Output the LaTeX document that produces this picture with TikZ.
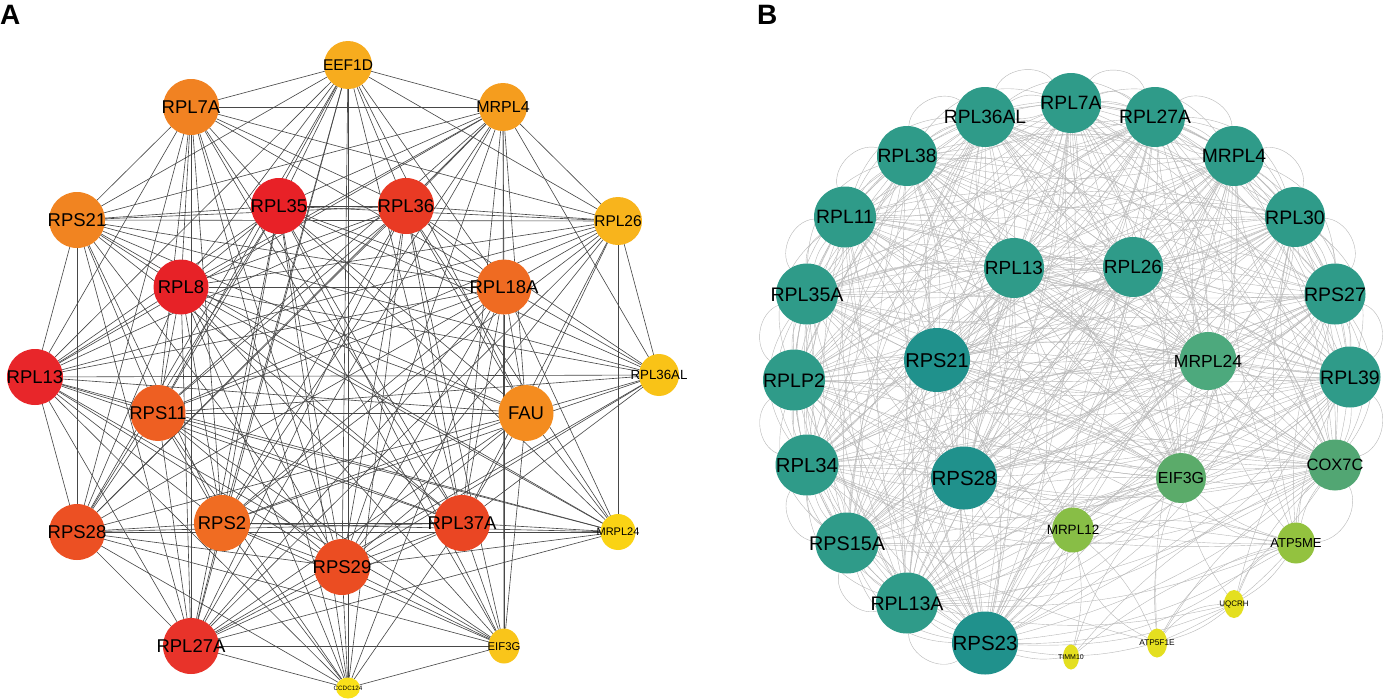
\documentclass[tikz,border=0pt]{standalone}
\usepackage{fontspec}
\setmainfont{Liberation Sans}
\usetikzlibrary{shapes.geometric}
\pgfdeclarelayer{bg}
\pgfdeclarelayer{edges}
\pgfsetlayers{bg,edges,main}

% panel A colours
\definecolor{cEEF1D}{HTML}{F7AC1E}
\definecolor{cRPL7A}{HTML}{F18222}
\definecolor{cMRPL4}{HTML}{F59D1E}
\definecolor{cRPS21}{HTML}{F18421}
\definecolor{cRPL35}{HTML}{E82127}
\definecolor{cRPL36}{HTML}{E93A24}
\definecolor{cRPL26}{HTML}{F8B41C}
\definecolor{cRPL8}{HTML}{E72227}
\definecolor{cRPL18A}{HTML}{EF6B22}
\definecolor{cRPL13}{HTML}{E8262A}
\definecolor{cRPL36AL}{HTML}{F9C317}
\definecolor{cRPS11}{HTML}{EE5F22}
\definecolor{cFAU}{HTML}{F48C1F}
\definecolor{cRPS28}{HTML}{EC5023}
\definecolor{cRPS2}{HTML}{F06C22}
\definecolor{cRPL37A}{HTML}{EA4623}
\definecolor{cMRPL24}{HTML}{FAD314}
\definecolor{cRPS29}{HTML}{EB4D22}
\definecolor{cRPL27A}{HTML}{E8332A}
\definecolor{cEIF3G}{HTML}{F9C51A}
\definecolor{cCCDC124}{HTML}{F9E11A}
% panel B colours
\definecolor{bTeal}{HTML}{2F9B89}
\definecolor{bDark}{HTML}{20918C}
\definecolor{bMrpl}{HTML}{4DA97D}
\definecolor{bCox}{HTML}{52A673}
\definecolor{bEif}{HTML}{5BAB6A}
\definecolor{bLime}{HTML}{88BE46}
\definecolor{bLime2}{HTML}{93C23F}
\definecolor{bYel}{HTML}{E4DF20}

\newcommand\lbl[1]{\makebox[0pt]{\raisebox{-0.36em}[0pt][0pt]{#1}}}
\tikzset{
  gene/.style={ellipse, inner sep=0pt, outer sep=0pt, draw=none},
  edgeA/.style={draw=black!72, line width=0.62pt},
  edgeB/.style={draw=black!28, line width=0.4pt},
  outarc/.style={bend left=#1},
  panel/.style={font=\fontsize{28}{28}\selectfont\bfseries, anchor=north west, inner sep=0pt},
}
% name, x, y, width, height, colour, font size, text
\newcommand\gnode[8]{%
  \node[gene, fill=#6, minimum width=#4pt, minimum height=#5pt,
        font=\fontsize{#7}{#7}\selectfont] (#1) at (#2,#3) {\lbl{#8}};}
\newcommand\noedge[2]{%
  \expandafter\def\csname miss-#1-#2\endcsname{}%
  \expandafter\def\csname miss-#2-#1\endcsname{}}

\noedge{aCCDC124}{aMRPL4}\noedge{aCCDC124}{aRPL26}\noedge{aCCDC124}{aRPL36AL}
\noedge{aCCDC124}{aMRPL24}\noedge{aCCDC124}{aFAU}\noedge{aCCDC124}{aRPS21}
\noedge{aMRPL24}{aEEF1D}\noedge{aMRPL24}{aRPL7A}\noedge{aMRPL24}{aEIF3G}
\noedge{aMRPL24}{aRPL36AL}\noedge{aMRPL24}{aMRPL4}
\noedge{aEIF3G}{aEEF1D}\noedge{aEIF3G}{aRPL26}\noedge{aEIF3G}{aRPL36AL}\noedge{aEIF3G}{aRPS21}
\noedge{aRPL36AL}{aEEF1D}\noedge{aRPL36AL}{aRPL7A}\noedge{aRPL36AL}{aRPS28}
\noedge{aRPL26}{aRPS28}\noedge{aFAU}{aRPL7A}

\def\Alist{aEEF1D,aRPL7A,aMRPL4,aRPS21,aRPL35,aRPL36,aRPL26,aRPL8,aRPL18A,aRPL13,aRPL36AL,aRPS11,aFAU,aRPS28,aRPS2,aRPL37A,aMRPL24,aRPS29,aRPL27A,aEIF3G,aCCDC124}
\def\Blist{bRPL7A,bRPL27A,bMRPL4,bRPL30,bRPS27,bRPL39,bCOX7C,bRPS23,bRPL13A,bRPS15A,bRPL34,bRPLP2,bRPL35A,bRPL11,bRPL38,bRPL36AL,bRPL13,bRPL26,bRPS21,bMRPL24,bRPS28,bEIF3G}

\begin{document}
\begin{tikzpicture}[x=1pt,y=-1pt]
\useasboundingbox (0,0) rectangle (1388,699);
\begin{pgfonlayer}{bg}
\fill[white] (0,0) rectangle (1388,699);
\end{pgfonlayer}

\node[panel] (labA) at (0,5) {A};
\node[panel] (labB) at (757,5) {B};

% ---------- panel A nodes ----------
\gnode{aEEF1D}{348}{65}{48}{48}{cEEF1D}{15.5}{EEF1D}
\gnode{aRPL7A}{191}{107}{56}{56}{cRPL7A}{18.5}{RPL7A}
\gnode{aMRPL4}{503}{107}{48}{48}{cMRPL4}{16}{MRPL4}
\gnode{aRPS21}{77}{220}{56}{56}{cRPS21}{18.5}{RPS21}
\gnode{aRPL35}{279}{206}{56}{56}{cRPL35}{18.5}{RPL35}
\gnode{aRPL36}{406}{206}{56}{56}{cRPL36}{18.5}{RPL36}
\gnode{aRPL26}{618}{221}{48}{48}{cRPL26}{15.5}{RPL26}
\gnode{aRPL8}{181}{287}{55}{55}{cRPL8}{18.5}{RPL8}
\gnode{aRPL18A}{504}{287}{55}{55}{cRPL18A}{18.5}{RPL18A}
\gnode{aRPL13}{35}{377}{56}{56}{cRPL13}{18.5}{RPL13}
\gnode{aRPL36AL}{659}{375}{40}{42}{cRPL36AL}{13.3}{RPL36AL}
\gnode{aRPS11}{158}{413}{55}{56}{cRPS11}{18.5}{RPS11}
\gnode{aFAU}{526}{413}{55}{56}{cFAU}{18.5}{FAU}
\gnode{aRPS28}{77}{532}{56}{56}{cRPS28}{18.5}{RPS28}
\gnode{aRPS2}{222}{523}{56}{56}{cRPS2}{18.5}{RPS2}
\gnode{aRPL37A}{462}{523}{56}{56}{cRPL37A}{18.5}{RPL37A}
\gnode{aMRPL24}{618}{532}{35}{36}{cMRPL24}{11}{MRPL24}
\gnode{aRPS29}{342}{567}{56}{56}{cRPS29}{18.5}{RPS29}
\gnode{aRPL27A}{191}{646}{56}{56}{cRPL27A}{18.5}{RPL27A}
\gnode{aEIF3G}{504}{646}{31}{35}{cEIF3G}{11.3}{EIF3G}
\gnode{aCCDC124}{348}{688}{24}{21}{cCCDC124}{6.3}{CCDC124}

% ---------- panel B nodes ----------
\gnode{bRPL7A}{1071}{103}{60}{60}{bTeal}{19.3}{RPL7A}
\gnode{bRPL27A}{1155}{117}{60}{60}{bTeal}{19.3}{RPL27A}
\gnode{bMRPL4}{1234}{156}{60}{60}{bTeal}{19.3}{MRPL4}
\gnode{bRPL30}{1295}{217}{60}{60}{bTeal}{19.5}{RPL30}
\gnode{bRPS27}{1335}{294}{61}{61}{bTeal}{19.5}{RPS27}
\gnode{bRPL39}{1350}{377}{61}{61}{bTeal}{19.5}{RPL39}
\gnode{bCOX7C}{1335}{465}{53}{51}{bCox}{16.5}{COX7C}
\gnode{bATP5ME}{1296}{543}{38}{41}{bLime2}{13}{ATP5ME}
\gnode{bUQCRH}{1234}{604}{20}{28}{bYel}{8}{UQCRH}
\gnode{bATP5F1E}{1157}{643}{20}{29}{bYel}{8.3}{ATP5F1E}
\gnode{bTIMM10}{1071}{657}{16}{25}{bYel}{7}{TIMM10}
\gnode{bRPS23}{985}{643}{66}{63}{bDark}{20.5}{RPS23}
\gnode{bRPL13A}{907}{603}{62}{61}{bTeal}{19.6}{RPL13A}
\gnode{bRPS15A}{847}{543}{63}{61}{bTeal}{19.8}{RPS15A}
\gnode{bRPL34}{807}{465}{63}{61}{bTeal}{20.3}{RPL34}
\gnode{bRPLP2}{794}{380}{62}{61}{bTeal}{19.5}{RPLP2}
\gnode{bRPL35A}{807}{294}{62}{61}{bTeal}{19.6}{RPL35A}
\gnode{bRPL11}{845}{217}{62}{61}{bTeal}{19.3}{RPL11}
\gnode{bRPL38}{907}{156}{60}{60}{bTeal}{19.3}{RPL38}
\gnode{bRPL36AL}{985}{117}{60}{60}{bTeal}{19.2}{RPL36AL}
\gnode{bRPL13}{1014}{268}{60}{60}{bTeal}{19}{RPL13}
\gnode{bRPL26}{1133}{267}{60}{60}{bTeal}{19}{RPL26}
\gnode{bRPS21}{937}{360}{66}{64}{bDark}{20}{RPS21}
\gnode{bMRPL24}{1208}{361}{57}{58}{bMrpl}{17.5}{MRPL24}
\gnode{bRPS28}{964}{478}{66}{63}{bDark}{20.5}{RPS28}
\gnode{bEIF3G}{1181}{478}{50}{50}{bEif}{16}{EIF3G}
\gnode{bMRPL12}{1073}{530}{42}{45}{bLime}{13.5}{MRPL12}

% ---------- edges ----------
\begin{pgfonlayer}{edges}
\foreach \u [count=\i] in \Alist {
  \foreach \v [count=\j] in \Alist {
    \ifnum\i<\j
      \ifcsname miss-\u-\v\endcsname\else
        \draw[edgeA] (\u) -- (\v);
      \fi
    \fi
  }
}
\foreach \u [count=\i] in \Blist {
  \foreach \v [count=\j] in \Blist {
    \ifnum\i<\j
      \draw[edgeB] (\u) to[bend left=12] (\v);
      \ifodd\numexpr\i+\j\relax \draw[edgeB] (\u) to[bend right=22] (\v);\fi
      \ifnum\numexpr\i+\j-3*((\i+\j)/3)\relax=0 \draw[edgeB] (\u) to[bend left=28] (\v);\fi
    \fi
  }
}
\foreach \u/\v in {bMRPL12/bRPS23,bMRPL12/bRPL13A,bMRPL12/bRPS15A,bMRPL12/bRPL34,
  bMRPL12/bRPS28,bMRPL12/bRPS21,bMRPL12/bRPL13,bMRPL12/bRPL26,bMRPL12/bEIF3G,
  bMRPL12/bCOX7C,bMRPL12/bMRPL24,bMRPL12/bATP5ME,bMRPL12/bTIMM10,bMRPL12/bATP5F1E,
  bMRPL12/bRPLP2,bMRPL12/bRPL39,
  bATP5ME/bCOX7C,bATP5ME/bEIF3G,bATP5ME/bMRPL24,bATP5ME/bRPS27,bATP5ME/bRPL39,
  bATP5ME/bRPL30,bATP5ME/bRPS28,bATP5ME/bRPS21,bATP5ME/bRPL34,bATP5ME/bRPLP2,
  bATP5ME/bUQCRH,bATP5ME/bATP5F1E,bATP5ME/bRPS23,bATP5ME/bRPL13A,bATP5ME/bMRPL4,
  bUQCRH/bATP5F1E,bUQCRH/bCOX7C,bUQCRH/bRPS23,bUQCRH/bEIF3G,bUQCRH/bRPL39,bUQCRH/bRPL13A,
  bATP5F1E/bCOX7C,bATP5F1E/bRPS23,bATP5F1E/bEIF3G,bATP5F1E/bRPL34,bATP5F1E/bMRPL24,
  bTIMM10/bRPS23,bTIMM10/bEIF3G,bTIMM10/bATP5ME,bTIMM10/bCOX7C}
  \draw[edgeB] (\u) to[bend left=12] (\v);
\foreach \u/\v in {bATP5ME/bUQCRH,bUQCRH/bATP5F1E,bATP5ME/bATP5F1E,bCOX7C/bATP5ME,
  bMRPL12/bATP5F1E,bEIF3G/bATP5ME,bRPS23/bMRPL12}
  \draw[edgeB] (\u) to[bend right=25] (\v);
\foreach \u/\v in {bRPL36AL/bRPL7A,bRPL7A/bRPL27A,bRPL27A/bMRPL4,bMRPL4/bRPL30,
  bRPL30/bRPS27,bRPS27/bRPL39,bRPL39/bCOX7C,bCOX7C/bATP5ME,bRPL38/bRPL36AL,
  bRPL11/bRPL38,bRPL35A/bRPL11,bRPLP2/bRPL35A,bRPL34/bRPLP2,bRPS15A/bRPL34,
  bRPL13A/bRPS15A,bRPS23/bRPL13A}
  \draw[edgeB] (\u) to[outarc=60] (\v);
\foreach \u/\v in {bRPL38/bRPL7A,bRPL36AL/bRPL27A,bRPL7A/bMRPL4,bRPL27A/bRPL30,
  bMRPL4/bRPS27,bRPL30/bRPL39,bRPS27/bCOX7C,bRPL11/bRPL36AL,bRPL35A/bRPL38,
  bRPLP2/bRPL11,bRPL34/bRPL35A,bRPS15A/bRPLP2,bRPL13A/bRPL34,bRPS23/bRPS15A}
  \draw[edgeB] (\u) to[outarc=35] (\v);
\end{pgfonlayer}
\end{tikzpicture}
\end{document}
